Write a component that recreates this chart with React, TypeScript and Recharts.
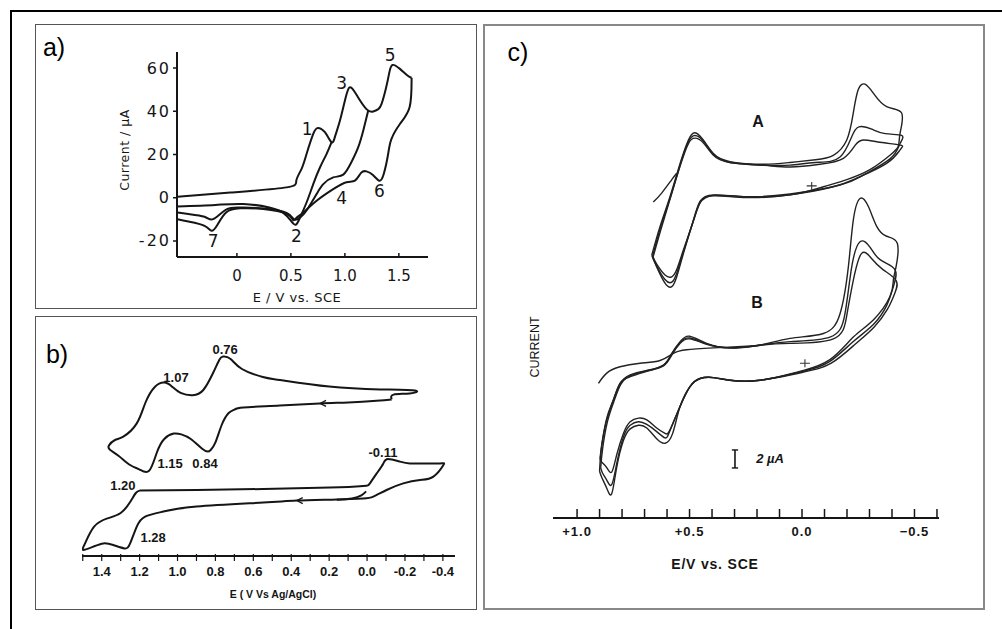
import React from 'react';
import { LineChart, Line, XAxis, YAxis, ReferenceDot, ReferenceLine } from 'recharts';

type Pt = [number, number];

// ---- a) Current / µA against E / V vs. SCE ----
const A_FORWARD: Pt[] = [
  [-0.55, 0.5], [-0.06, 2.4], [0.46, 4.8], [0.55, 7.9], [0.6, 13.5], [0.645, 20.2], [0.707, 29.5],
  [0.75, 32.3], [0.815, 30.3], [0.877, 25.7], [0.91, 28.5], [0.954, 35.6], [1.0, 44.9], [1.03, 50.0],
  [1.055, 51.0], [1.09, 49.0], [1.123, 46.4], [1.2, 41.0], [1.262, 39.9], [1.31, 41.0], [1.34, 43.4],
  [1.38, 50.5], [1.41, 57.5], [1.44, 61.4], [1.51, 59.6], [1.58, 56.5], [1.618, 55.5],
];
const A_RETURN_1: Pt[] = [
  [0.877, 25.7], [0.83, 20.2], [0.769, 14.0], [0.707, 6.3], [0.645, -2.2], [0.584, -9.2], [0.545, -12.5],
  [0.5, -10.6], [0.43, -7.0], [0.3, -4.5], [0.06, -2.9], [-0.2, -3.3], [-0.55, -4.0],
];
const A_RETURN_2: Pt[] = [
  [1.216, 40.3], [1.17, 31.0], [1.123, 23.3], [1.06, 16.4], [0.985, 10.7], [0.892, 9.4], [0.8, 6.3],
  [0.738, 1.7], [0.645, -5.9], [0.584, -9.2], [0.53, -10.0], [0.46, -7.0], [0.244, -5.0], [0.03, -4.5],
  [-0.1, -5.5], [-0.22, -9.9], [-0.3, -8.8], [-0.45, -7.5], [-0.55, -6.8],
];
const A_RETURN_3: Pt[] = [
  [1.618, 55.5], [1.6, 42.0], [1.51, 34.1], [1.43, 27.0], [1.4, 20.0], [1.36, 11.0], [1.318, 7.9],
  [1.26, 10.5], [1.2, 12.2], [1.15, 11.5], [1.093, 7.9], [1.015, 7.2], [0.892, 4.0], [0.738, -1.4],
  [0.614, -6.9], [0.553, -9.2], [0.522, -10.4], [0.46, -7.5], [0.244, -5.2], [0.03, -4.9], [-0.1, -6.8],
  [-0.18, -12.5], [-0.235, -15.3], [-0.3, -13.0], [-0.45, -11.0], [-0.55, -9.9],
];
const A_E_TICKS = [0, 0.5, 1.0, 1.5];
const A_I_TICKS = [-20, 0, 20, 40, 60];
const A_PEAK_NAMES = ['1', '2', '3', '4', '5', '6', '7'];
const A_PEAK_AT: Pt[] = [[0.65, 32], [0.55, -17.6], [0.97, 53], [0.97, 0], [1.42, 66], [1.32, 3], [-0.22, -20]];

// ---- b) two voltammograms, E (V vs Ag/AgCl) ----
const B_UPPER: Pt[] = [
  [-0.13, 78.3], [-0.05, 77.6], [0.1, 76.8], [0.25, 76.3], [0.46, 75.2], [0.653, 74.3], [0.7, 73.2],
  [0.73, 71.5], [0.767, 65.5], [0.8, 56.8], [0.825, 53.0], [0.84, 52.2], [0.87, 53.6], [0.93, 58.5],
  [0.98, 60.8], [1.02, 61.2], [1.07, 58.5], [1.11, 51.5], [1.15, 42.6], [1.2, 43.2], [1.25, 45.5],
  [1.31, 50.0], [1.355, 53.0], [1.362, 55.2], [1.33, 58.0], [1.286, 59.7], [1.215, 66.3], [1.17, 76.5],
  [1.12, 84.5], [1.07, 86.7], [1.03, 84.8], [0.98, 81.4], [0.92, 80.4], [0.864, 83.0], [0.81, 92.0],
  [0.78, 98.0], [0.76, 99.7], [0.72, 98.5], [0.66, 93.5], [0.55, 89.5], [0.46, 88.0], [0.2, 84.7],
  [-0.07, 83.3], [-0.253, 82.7], [-0.225, 81.3], [-0.14, 80.7], [-0.13, 78.3],
];
const B_LOWER: Pt[] = [
  [1.2, 32.7], [1.22, 31.5], [1.25, 27.0], [1.3, 21.5], [1.37, 18.8], [1.44, 14.7], [1.488, 6.3],
  [1.497, 3.0], [1.444, 4.7], [1.391, 6.3], [1.339, 5.5], [1.28, 3.8], [1.25, 6.3], [1.215, 14.7],
  [1.171, 19.7], [1.075, 22.2], [0.899, 24.7], [0.547, 26.7], [0.371, 27.7], [0.16, 28.3], [0.02, 28.8],
  [-0.033, 29.7], [-0.103, 33.0], [-0.191, 36.3], [-0.279, 38.0], [-0.35, 39.7], [-0.403, 45.5],
  [-0.385, 46.3], [-0.297, 46.3], [-0.226, 46.3], [-0.174, 47.2], [-0.11, 48.5], [-0.086, 46.3],
  [-0.051, 41.3], [-0.015, 36.3], [0.02, 35.0], [0.195, 34.2], [0.547, 33.5], [0.899, 33.0], [1.2, 32.7],
];
const B_LOWER_START: Pt[] = [[0.005, 32.3], [0.03, 30.3], [0.08, 28.8], [0.16, 28.1]];
const B_E_TICKS = [1.5, 1.4, 1.3, 1.2, 1.1, 1.0, 0.9, 0.8, 0.7, 0.6, 0.5, 0.4, 0.3, 0.2, 0.1, 0.0, -0.1, -0.2, -0.3, -0.4];
const B_E_LABELS = [1.4, 1.2, 1.0, 0.8, 0.6, 0.4, 0.2, 0.0, -0.2, -0.4];
const B_PEAK_NAMES = ['0.76', '1.07', '1.15', '0.84', '-0.11', '1.20', '1.28'];
const B_PEAK_AT: Pt[] = [[0.749, 103.5], [1.008, 89.5], [1.039, 46.5], [0.855, 46.5], [-0.084, 52], [1.288, 35.5], [1.129, 9.5]];
const B_ARROWS: Pt[] = [[0.248, 76.3], [0.371, 27.7]];

// ---- c) repeated scans, A and B, E/V vs. SCE (current in µA, stacked) ----
const C_A1: Pt[] = [
  [0.668, 29.2], [0.631, 32.4], [0.587, 35.7], [0.542, 39.4], [0.505, 42.0], [0.476, 42.8], [0.439, 42.0],
  [0.394, 40.5], [0.32, 39.6], [0.172, 39.3], [0.053, 39.5], [-0.06, 39.8], [-0.139, 40.3], [-0.199, 42.0],
  [-0.228, 45.0], [-0.25, 47.6], [-0.28, 48.2], [-0.317, 47.2], [-0.376, 45.7], [-0.443, 45.0],
  [-0.436, 42.75], [-0.428, 41.3], [-0.391, 40.3], [-0.302, 38.7], [-0.199, 37.6], [-0.095, 36.8],
  [0.053, 35.9], [0.246, 35.7], [0.394, 35.9], [0.453, 35.2], [0.483, 33.1], [0.527, 29.4], [0.557, 26.8],
  [0.579, 25.7], [0.609, 26.1], [0.646, 27.9], [0.668, 29.2],
];
const C_A2: Pt[] = [
  [0.665, 29.0], [0.63, 32.2], [0.587, 35.5], [0.542, 39.2], [0.505, 41.8], [0.476, 42.5], [0.439, 41.9],
  [0.394, 40.4], [0.32, 39.5], [0.172, 39.2], [0.053, 39.2], [-0.06, 39.5], [-0.169, 40.1], [-0.228, 42.75],
  [-0.265, 43.5], [-0.31, 43.2], [-0.37, 42.7], [-0.443, 42.5], [-0.436, 41.6], [-0.391, 39.9],
  [-0.272, 38.1], [-0.169, 37.0], [0.053, 36.0], [0.246, 35.7], [0.394, 35.85], [0.453, 35.1], [0.483, 33.0],
  [0.527, 29.6], [0.557, 27.2], [0.579, 26.2], [0.609, 26.5], [0.646, 28.0], [0.665, 29.0],
];
const C_A3: Pt[] = [
  [0.662, 29.0], [0.628, 32.0], [0.587, 35.4], [0.542, 39.1], [0.505, 41.6], [0.476, 42.2], [0.439, 41.7],
  [0.394, 40.3], [0.32, 39.5], [0.172, 39.2], [0.053, 39.0], [-0.08, 39.3], [-0.184, 39.96], [-0.236, 41.4],
  [-0.272, 42.0], [-0.332, 41.8], [-0.391, 41.6], [-0.443, 41.4], [-0.436, 40.9], [-0.376, 39.4],
  [-0.243, 37.75], [-0.139, 36.8], [0.053, 35.9], [0.246, 35.6], [0.394, 35.8], [0.453, 35.0], [0.483, 33.0],
  [0.527, 29.8], [0.557, 27.6], [0.579, 26.8], [0.609, 27.0], [0.646, 28.2], [0.662, 29.0],
];
const C_A_START: Pt[] = [[0.661, 35.1], [0.624, 36.1], [0.579, 37.6], [0.557, 38.3]];
const C_B1: Pt[] = [
  [0.9, 5.2], [0.893, 7.5], [0.87, 10.7], [0.84, 13.0], [0.81, 14.9], [0.764, 15.9], [0.69, 16.4],
  [0.616, 17.0], [0.579, 18.3], [0.542, 19.6], [0.5, 20.2], [0.424, 19.4], [0.32, 18.9], [0.187, 19.2],
  [0.053, 19.96], [-0.095, 20.5], [-0.169, 22.7], [-0.206, 27.9], [-0.228, 33.1], [-0.258, 35.5],
  [-0.295, 34.6], [-0.332, 32.4], [-0.376, 31.3], [-0.424, 30.5], [-0.418, 27.9], [-0.406, 26.4],
  [-0.391, 24.6], [-0.317, 22.0], [-0.228, 20.1], [-0.124, 17.6], [-0.006, 16.4], [0.053, 16.0],
  [0.187, 15.3], [0.32, 15.3], [0.394, 15.6], [0.453, 15.5], [0.498, 14.6], [0.542, 12.4], [0.575, 9.4],
  [0.609, 8.3], [0.646, 8.8], [0.69, 10.0], [0.727, 10.3], [0.764, 9.9], [0.794, 8.6], [0.824, 5.6],
  [0.846, 2.7], [0.868, 3.3], [0.89, 4.5], [0.9, 5.2],
];
const C_B2: Pt[] = [
  [0.895, 5.6], [0.887, 7.6], [0.866, 10.6], [0.837, 12.9], [0.807, 14.8], [0.764, 15.8], [0.69, 16.35],
  [0.616, 16.95], [0.579, 18.2], [0.542, 19.5], [0.5, 20.0], [0.424, 19.35], [0.32, 18.9], [0.187, 19.2],
  [0.053, 19.6], [-0.124, 20.1], [-0.191, 22.7], [-0.221, 27.9], [-0.258, 30.7], [-0.302, 30.1],
  [-0.347, 28.7], [-0.413, 27.6], [-0.406, 25.7], [-0.376, 23.6], [-0.317, 21.5], [-0.228, 19.6],
  [-0.124, 17.4], [-0.006, 16.3], [0.187, 15.3], [0.32, 15.3], [0.394, 15.6], [0.453, 15.5], [0.498, 14.6],
  [0.542, 12.4], [0.587, 9.7], [0.609, 8.9], [0.646, 9.6], [0.69, 10.4], [0.727, 10.7], [0.764, 10.3],
  [0.794, 9.0], [0.824, 6.0], [0.846, 3.7], [0.868, 4.2], [0.887, 5.0], [0.895, 5.6],
];
const C_B3: Pt[] = [
  [0.898, 6.6], [0.89, 8.2], [0.868, 11.1], [0.839, 13.1], [0.809, 14.96], [0.764, 15.7], [0.69, 16.3],
  [0.616, 16.9], [0.579, 18.1], [0.542, 19.4], [0.5, 19.9], [0.424, 19.3], [0.32, 18.9], [0.187, 19.2],
  [0.053, 19.4], [-0.139, 19.9], [-0.199, 22.5], [-0.228, 26.4], [-0.265, 29.4], [-0.31, 28.8],
  [-0.36, 27.6], [-0.418, 26.4], [-0.413, 25.0], [-0.38, 23.2], [-0.32, 21.2], [-0.236, 19.3],
  [-0.13, 17.2], [-0.006, 16.2], [0.187, 15.3], [0.32, 15.3], [0.394, 15.6], [0.453, 15.5], [0.498, 14.6],
  [0.542, 12.4], [0.587, 9.8], [0.609, 9.4], [0.646, 10.0], [0.69, 10.9], [0.727, 11.1], [0.764, 10.7],
  [0.794, 9.4], [0.824, 7.0], [0.846, 5.1], [0.868, 5.6], [0.89, 6.2], [0.898, 6.6],
];
const C_B_START: Pt[] = [
  [0.905, 14.96], [0.868, 16.1], [0.809, 16.8], [0.72, 17.2], [0.631, 17.5], [0.572, 18.3], [0.513, 18.7],
  [0.394, 18.9], [0.246, 19.1], [0.187, 19.2],
];
const C_E_TICKS = [1.0, 0.9, 0.8, 0.7, 0.6, 0.5, 0.4, 0.3, 0.2, 0.1, 0.0, -0.1, -0.2, -0.3, -0.4, -0.5, -0.6];
const C_E_LABELS: Record<string, string> = { '1.0': '+1.0', '0.5': '+0.5', '0.0': '0.0', '-0.5': '\u22120.5' };
const C_SCAN_NAMES = ['A', 'B'];
const C_SCAN_AT: Pt[] = [[0.196, 44.1], [0.2, 23.9]];
const C_START_MARKS: Pt[] = [[-0.043, 36.9], [-0.013, 17.2]];
const C_SCALE_BAR: Pt = [0.298, 5.56]; // 2 µA bar, bottom end
const C_SCALE_UA = 2;

const INK = '#151515';
const TOP_ROOM = 20; // space above each plot so annotations near the top are not cut

const rows = (pts: Pt[]) => pts.map(([e, i]) => ({ e, i }));

function traces(series: Pt[][], width: number, key: string, color = INK) {
  return series.map((pts, k) => (
    <Line
      key={`${key}${k}`}
      data={rows(pts)}
      dataKey="i"
      type="natural"
      stroke={color}
      strokeWidth={width}
      dot={false}
      activeDot={false}
      isAnimationActive={false}
    />
  ));
}

function notes(names: string[], at: Pt[], style: React.CSSProperties, key: string) {
  return names.map((name, k) => (
    <ReferenceDot
      key={`${key}${k}`}
      x={at[k][0]}
      y={at[k][1]}
      r={1}
      shape={(p: any) => (
        <text x={p.cx} y={p.cy} textAnchor="middle" dominantBaseline="central" fill={style.fill as string} style={style}>
          {name}
        </text>
      )}
    />
  ));
}

const Txt = ({ x, y, children, style, rotate }: { x: number; y: number; children: React.ReactNode; style: React.CSSProperties; rotate?: boolean }) => (
  <div
    style={{
      position: 'absolute',
      left: x,
      top: y,
      whiteSpace: 'nowrap',
      lineHeight: 1,
      transform: `translate(-50%, -50%)${rotate ? ' rotate(-90deg)' : ''}`,
      ...style,
    }}
  >
    {children}
  </div>
);

const FONT_A = '"DejaVu Sans", sans-serif';
const FONT_BC = '"Liberation Sans", Arial, sans-serif';
const MARGIN = { top: TOP_ROOM, right: 0, bottom: 0, left: 0 };

function PanelA() {
  const tickX = ({ x, y, payload }: any) => (
    <g>
      <line x1={x} y1={y} x2={x} y2={y - 4} stroke={INK} strokeWidth={1.5} />
      <text x={x} y={y + 19} textAnchor="middle" dominantBaseline="central" fill={INK} style={{ fontFamily: FONT_A, fontSize: 15 }}>
        {payload.value === 0 ? '0' : payload.value.toFixed(1)}
      </text>
    </g>
  );
  const tickY = ({ x, y, payload }: any) => (
    <g>
      <line x1={x} y1={y} x2={x - 4} y2={y} stroke={INK} strokeWidth={1.5} />
      <text x={x - 6} y={y} textAnchor="end" dominantBaseline="central" fill={INK} style={{ fontFamily: FONT_A, fontSize: 16, letterSpacing: 2 }}>
        {payload.value}
      </text>
    </g>
  );
  return (
    <div style={{ position: 'absolute', left: 117, top: 52 - TOP_ROOM }}>
      <LineChart width={311} height={255 + TOP_ROOM} margin={MARGIN}>
        <XAxis type="number" dataKey="e" domain={[-0.555, 1.77]} ticks={A_E_TICKS} interval={0} height={50}
          tickSize={0} tickMargin={0} tickLine={false} tick={tickX} axisLine={{ stroke: INK, strokeWidth: 2 }} />
        <YAxis type="number" domain={[-27.4, 67.4]} ticks={A_I_TICKS} interval={0} width={60}
          tickSize={0} tickMargin={0} tickLine={false} tick={tickY} axisLine={{ stroke: INK, strokeWidth: 2 }} />
        {traces([A_FORWARD, A_RETURN_1, A_RETURN_2, A_RETURN_3], 2, 'a')}
        {notes(A_PEAK_NAMES, A_PEAK_AT, { fontFamily: FONT_A, fontSize: 17, fill: INK }, 'an')}
      </LineChart>
    </div>
  );
}

function PanelB() {
  const tickX = ({ x, y, payload }: any) => {
    const v = payload.value as number;
    const labelled = B_E_LABELS.some((l) => Math.abs(l - v) < 1e-6);
    return (
      <g>
        <line x1={x} y1={y - 2} x2={x} y2={y + 5} stroke={INK} strokeWidth={1.2} />
        {labelled && (
          <text x={x} y={y + 15} textAnchor="middle" dominantBaseline="central" fill={INK}
            style={{ fontFamily: FONT_BC, fontSize: 13, fontWeight: 700 }}>
            {v.toFixed(1)}
          </text>
        )}
      </g>
    );
  };
  const arrow = (p: any) => (
    <path d={`M${p.cx + 6},${p.cy - 3} L${p.cx},${p.cy} L${p.cx + 6},${p.cy + 3}`} fill="none" stroke={INK} strokeWidth={1.2} />
  );
  return (
    <div style={{ position: 'absolute', left: 82, top: 320 - TOP_ROOM }}>
      <LineChart width={373} height={276 + TOP_ROOM} margin={MARGIN}>
        <XAxis type="number" dataKey="e" domain={[-0.464, 1.504]} reversed ticks={B_E_TICKS} interval={0} height={40}
          tickSize={0} tickMargin={0} tickLine={false} tick={tickX} axisLine={{ stroke: INK, strokeWidth: 2 }} />
        <YAxis type="number" domain={[0, 118]} hide />
        {traces([B_UPPER, B_LOWER, B_LOWER_START], 2, 'b')}
        {B_ARROWS.map(([e, i], k) => (
          <ReferenceDot key={`ba${k}`} x={e} y={i} r={1} shape={arrow} />
        ))}
        {notes(B_PEAK_NAMES, B_PEAK_AT, { fontFamily: FONT_BC, fontSize: 13, fontWeight: 700, fill: INK }, 'bn')}
      </LineChart>
    </div>
  );
}

function PanelC() {
  const tickX = ({ x, y, payload }: any) => {
    const key = (payload.value as number).toFixed(1);
    const label = C_E_LABELS[key === '-0.0' ? '0.0' : key];
    return (
      <g>
        <line x1={x} y1={y} x2={x} y2={y - 9} stroke={INK} strokeWidth={1.5} />
        {label && (
          <text x={x} y={y + 13} textAnchor="middle" dominantBaseline="central" fill={INK}
            style={{ fontFamily: FONT_BC, fontSize: 13, fontWeight: 700, letterSpacing: 1 }}>
            {label}
          </text>
        )}
      </g>
    );
  };
  // small cross marking where each scan starts
  const cross = (p: any) => (
    <path d={`M${p.cx - 5},${p.cy} H${p.cx + 5} M${p.cx},${p.cy - 4} V${p.cy + 4}`} stroke="#333" strokeWidth={1.1} fill="none" />
  );
  const [be, bi] = C_SCALE_BAR;
  const top = bi + C_SCALE_UA;
  return (
    <div style={{ position: 'absolute', left: 553, top: 65 - TOP_ROOM }}>
      <LineChart width={386} height={493 + TOP_ROOM} margin={MARGIN}>
        <XAxis type="number" dataKey="e" domain={[-0.609, 1.107]} reversed ticks={C_E_TICKS} interval={0} height={40}
          tickSize={0} tickMargin={0} tickLine={false} tick={tickX} axisLine={{ stroke: INK, strokeWidth: 2 }} />
        <YAxis type="number" domain={[0, 50.33]} width={0} tick={false} tickLine={false} axisLine={{ stroke: INK, strokeWidth: 2.5 }} />
        {traces([C_A1, C_A2, C_A3, C_A_START, C_B1, C_B2, C_B3, C_B_START], 1.4, 'c', '#222')}
        <ReferenceLine segment={[{ x: be, y: bi }, { x: be, y: top }]} stroke={INK} strokeWidth={1.6} />
        <ReferenceLine segment={[{ x: be + 0.014, y: bi }, { x: be - 0.014, y: bi }]} stroke={INK} strokeWidth={1.4} />
        <ReferenceLine segment={[{ x: be + 0.014, y: top }, { x: be - 0.014, y: top }]} stroke={INK} strokeWidth={1.4} />
        {notes(['2 \u00b5A'], [[0.142, (bi + top) / 2]], { fontFamily: FONT_BC, fontSize: 13, fontWeight: 700, fontStyle: 'italic', fill: INK }, 'cs')}
        {notes(C_SCAN_NAMES, C_SCAN_AT, { fontFamily: FONT_BC, fontSize: 16, fontWeight: 700, fill: INK }, 'cn')}
        {C_START_MARKS.map(([e, i], k) => (
          <ReferenceDot key={`cp${k}`} x={e} y={i} r={1} shape={cross} />
        ))}
      </LineChart>
    </div>
  );
}

export default function App() {
  const box = (left: number, top: number, width: number, height: number, border: string): React.CSSProperties => ({
    position: 'absolute', left, top, width, height, border, boxSizing: 'border-box',
  });
  const panelLetter: React.CSSProperties = { fontFamily: FONT_BC, fontSize: 25, color: '#000' };
  return (
    <div style={{ position: 'absolute', left: 0, top: 0, width: 1002, height: 629, overflow: 'hidden', background: '#fff' }}>
      <div style={box(10, 10, 1010, 640, '2px solid #000')} />
      <div style={box(35, 24, 442, 285, '1.5px solid #555')} />
      <div style={box(35, 316, 442, 294, '1.5px solid #555')} />
      <div style={box(483, 24, 502, 586, '2px solid #888')} />

      <PanelA />
      <PanelB />
      <PanelC />

      <Txt x={54} y={47} style={panelLetter}>a)</Txt>
      <Txt x={125} y={150} rotate style={{ fontFamily: FONT_A, fontSize: 12.5, letterSpacing: 0.5, color: INK }}>Current / µA</Txt>
      <Txt x={297} y={297} style={{ fontFamily: FONT_A, fontSize: 13, letterSpacing: 0.5, color: INK }}>E / V vs. SCE</Txt>

      <Txt x={57} y={354} style={panelLetter}>b)</Txt>
      <Txt x={273} y={594} style={{ fontFamily: FONT_BC, fontSize: 10.5, fontWeight: 700, color: INK }}>E ( V Vs Ag/AgCl)</Txt>

      <Txt x={518} y={52} style={panelLetter}>c)</Txt>
      <Txt x={535} y={347} rotate style={{ fontFamily: FONT_BC, fontSize: 12.5, color: INK }}>CURRENT</Txt>
      <Txt x={715} y={564} style={{ fontFamily: FONT_BC, fontSize: 14, fontWeight: 700, letterSpacing: 0.8, color: INK }}>E/V vs. SCE</Txt>
    </div>
  );
}
